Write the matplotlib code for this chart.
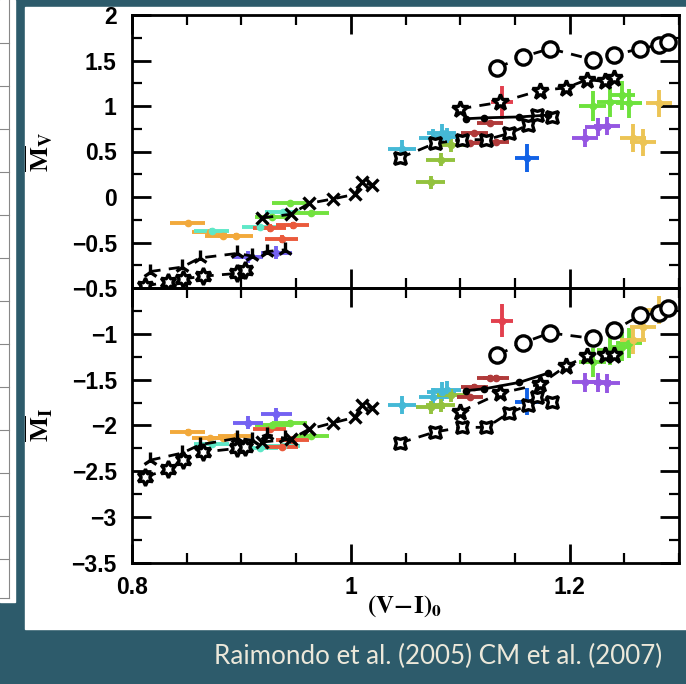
import matplotlib.pyplot as plt
from matplotlib.patches import Rectangle
from matplotlib.lines import Line2D
from matplotlib.ticker import MultipleLocator

plt.rcParams['mathtext.fontset'] = 'stix'

# (V-I)_0 colour and mean magnitudes of the observed clusters
orange_x = [0.851, 0.871, 0.883, 0.895]
orange_mv = [-0.29, -0.38, -0.43, -0.43]
orange_mi = [-2.07, -2.14, -2.14, -2.12]

aqua_x = [0.873, 0.917, 0.938]
aqua_mv = [-0.37, -0.33, -0.17]
aqua_mi = [-2.20, -2.25, -2.22]

tomato_x = [0.926, 0.937, 0.947]
tomato_mv = [-0.34, -0.46, -0.31]
tomato_mi = [-2.04, -2.23, -2.16]

green_x = [0.928, 0.944, 0.964]
green_mv = [-0.22, -0.07, -0.18]
green_mi = [-2.00, -1.97, -2.12]

violet_x = [0.906, 0.932]
violet_mv = [-0.66, -0.61]
violet_mi = [-1.97, -1.88]

cyan_x = [1.047, 1.075, 1.083, 1.088]
cyan_mv = [0.53, 0.65, 0.70, 0.66]
cyan_mi = [-1.78, -1.69, -1.63, -1.61]

olive_x = [1.073, 1.082, 1.092]
olive_mv = [0.16, 0.41, 0.57]
olive_mi = [-1.80, -1.78, -1.67]

darkred_x = [1.109, 1.113, 1.127, 1.133]
darkred_mv = [0.59, 0.70, 0.81, 0.60]
darkred_mi = [-1.69, -1.58, -1.48, -1.48]

red_x = [1.138]
red_mv = [1.04]
red_mi = [-0.86]

blue_x = [1.161]
blue_mv = [0.43]
blue_mi = [-1.74]

purple_x = [1.214, 1.226, 1.234]
purple_mv = [0.65, 0.77, 0.78]
purple_mi = [-1.53, -1.53, -1.54]

lime_x = [1.221, 1.237, 1.248, 1.254]
lime_mv = [1.00, 1.04, 1.12, 1.03]
lime_mi = [-1.31, -1.18, -1.14, -1.10]

gold_x = [1.258, 1.267, 1.282]
gold_mv = [0.65, 0.60, 1.03]
gold_mi = [-1.07, -0.93, -0.74]

# model sequences
tri_x = [0.816, 0.846, 0.862, 0.896, 0.910, 0.923, 0.940]
tri_mv = [-0.82, -0.77, -0.67, -0.62, -0.65, -0.60, -0.58]
tri_mi = [-2.38, -2.30, -2.21, -2.14, -2.16, -2.10, -2.14]

hex_x = [0.812, 0.833, 0.847, 0.865, 0.896, 0.903]
hex_mv = [-0.98, -0.93, -0.90, -0.87, -0.84, -0.80]
hex_mi = [-2.56, -2.48, -2.38, -2.29, -2.25, -2.23]

cross_x = [0.919, 0.945, 0.962, 0.984, 1.004, 1.010, 1.019]
cross_mv = [-0.23, -0.19, -0.07, -0.02, 0.03, 0.17, 0.13]
cross_mi = [-2.18, -2.15, -2.04, -1.97, -1.91, -1.78, -1.81]

four_x = [1.045, 1.077, 1.102, 1.124, 1.145, 1.162, 1.170, 1.184]
four_mv = [0.43, 0.59, 0.63, 0.63, 0.70, 0.79, 0.90, 0.88]
four_mi = [-2.19, -2.07, -2.02, -2.02, -1.86, -1.78, -1.69, -1.74]

dot_x = [1.105, 1.122, 1.154, 1.180]
dot_mv = [0.86, 0.87, 0.88, 0.90]
dot_mi = [-1.62, -1.60, -1.53, -1.43]

five_x = [1.100, 1.136, 1.173, 1.197, 1.216, 1.232, 1.241]
five_mv = [0.97, 1.04, 1.17, 1.20, 1.29, 1.27, 1.31]
five_mi = [-1.85, -1.65, -1.55, -1.35, -1.24, -1.23, -1.23]

circ_x = [1.134, 1.157, 1.182, 1.221, 1.241, 1.264, 1.282, 1.290]
circ_mv = [1.42, 1.54, 1.63, 1.51, 1.56, 1.63, 1.67, 1.70]
circ_mi = [-1.23, -1.10, -0.99, -1.05, -0.96, -0.80, -0.77, -0.72]

# colour, x, M_V, M_I, xerr, yerr
clusters = [
    ('#f2a93b', orange_x, orange_mv, orange_mi, 0.016, 0.03),
    ('#5fe8c8', aqua_x, aqua_mv, aqua_mi, 0.016, 0.03),
    ('#ea5a3c', tomato_x, tomato_mv, tomato_mi, 0.015, 0.04),
    ('#72e23e', green_x, green_mv, green_mi, 0.016, 0.03),
    ('#7462f2', violet_x, violet_mv, violet_mi, 0.014, 0.07),
    ('#45b9d6', cyan_x, cyan_mv, cyan_mi, 0.013, 0.10),
    ('#93c23e', olive_x, olive_mv, olive_mi, 0.013, 0.07),
    ('#b03a3a', darkred_x, darkred_mv, darkred_mi, 0.012, 0.03),
    ('#e2404e', red_x, red_mv, red_mi, 0.010, 0.18),
    ('#1262e6', blue_x, blue_mv, blue_mi, 0.011, 0.15),
    ('#9556e2', purple_x, purple_mv, purple_mi, 0.012, 0.10),
    ('#6de23c', lime_x, lime_mv, lime_mi, 0.012, 0.16),
    ('#ecc455', gold_x, gold_mv, gold_mi, 0.012, 0.15),
]

# marker, linestyle, x, M_V, M_I
models = [
    ('2', 'dash', tri_x, tri_mv, tri_mi),
    ((6, 1, 0), 'dash', hex_x, hex_mv, hex_mi),
    ('x', 'dash', cross_x, cross_mv, cross_mi),
    ((4, 1, 45), 'dash', four_x, four_mv, four_mi),
    ('o', 'solid', dot_x, dot_mv, dot_mi),
    ('*', 'dash', five_x, five_mv, five_mi),
    ('o', 'dash', circ_x, circ_mv, circ_mi),
]

W, H = 686, 684
TEAL = '#2d5b6b'

fig = plt.figure(figsize=(W / 100, H / 100), dpi=100, facecolor=TEAL)


def px(x0, y0, x1, y1):
    # pixel box -> figure fraction
    return [x0 / W, 1 - y1 / H, (x1 - x0) / W, (y1 - y0) / H]


# slide background: table strip on the left and the white picture panel
l, b, w, h = px(0, 0, 15, 602)
fig.patches.append(Rectangle((l, b), w, h, transform=fig.transFigure, color='white', zorder=-2))
grid_kw = dict(transform=fig.transFigure, color='#888888', lw=0.8, zorder=-1)
fig.lines.append(Line2D([9 / W, 9 / W], [1 - 598 / H, 1], **grid_kw))
for yy in range(43, 600, 43):
    fig.lines.append(Line2D([0, 9 / W], [1 - yy / H] * 2, **grid_kw))
fig.lines.append(Line2D([0, 9 / W], [1 - 598 / H] * 2, **grid_kw))
l, b, w, h = px(25, 7, 686, 629)
fig.patches.append(Rectangle((l, b), w, h, transform=fig.transFigure, color='white', zorder=-2))

ax_v = fig.add_axes(px(132, 15, 679, 288))
ax_i = fig.add_axes(px(132, 288, 679, 563))

TICK_FONT = {'family': 'Liberation Sans', 'weight': 'bold', 'size': 16.5}


def fmt(v):
    return '{:g}'.format(v).replace('-', '\u2212')


for ax, col in ((ax_v, 2), (ax_i, 3)):
    ax.set_facecolor('none')
    for c, xs, mv, mi, xe, ye in clusters:
        ys = mv if col == 2 else mi
        ax.errorbar(xs, ys, xerr=xe, yerr=ye, fmt='o', ms=4.5, color=c,
                    elinewidth=2.8, capsize=0, zorder=2)
    for m, ls, xs, mv, mi in models:
        ys = mv if col == 2 else mi
        style = (0, (4, 3)) if ls == 'dash' else '-'
        if m == 'o' and ls == 'solid':
            ax.plot(xs, ys, linestyle=style, color='black', lw=2, marker='o', ms=4.5, zorder=3)
        else:
            mfc = 'none' if m in ('2', 'x') else 'white'
            size = {'o': 11, '*': 12, '2': 11, 'x': 9}.get(m, 12)
            ax.plot(xs, ys, linestyle=style, color='black', lw=2, marker=m, ms=size,
                    mfc=mfc, mec='black', mew=2.4, zorder=3)

    ax.set_xlim(0.8, 1.3)
    ax.xaxis.set_major_locator(MultipleLocator(0.2))
    ax.xaxis.set_minor_locator(MultipleLocator(0.05))
    ax.yaxis.set_minor_locator(MultipleLocator(0.25))
    ax.tick_params(which='major', direction='in', length=14, width=2, top=True, right=True, pad=11)
    ax.tick_params(which='minor', direction='in', length=7, width=1.6, top=True, right=True)
    for s in ax.spines.values():
        s.set_linewidth(2)

ax_v.set_ylim(-1, 2)
vt = [-1, -0.5, 0, 0.5, 1, 1.5, 2]
ax_v.set_yticks(vt)
ax_v.set_yticklabels([''] + [fmt(v) for v in vt[1:]], fontdict=TICK_FONT)
ax_v.set_xticklabels([])

ax_i.set_ylim(-3.5, -0.5)
it = [-3.5, -3, -2.5, -2, -1.5, -1, -0.5]
ax_i.set_yticks(it)
ax_i.set_yticklabels([fmt(v) for v in it], fontdict=TICK_FONT)
xt = [0.8, 1.0, 1.2]
ax_i.set_xticks(xt)
ax_i.set_xticklabels([fmt(v) for v in xt], fontdict=TICK_FONT)
ax_i.tick_params(axis='x', which='major', pad=9)

fig.text(40 / W, 1 - 152 / H, r'$\overline{\mathbf{M}}_{\mathbf{V}}$', rotation=90,
         ha='center', va='center', fontsize=19)
fig.text(40 / W, 1 - 425 / H, r'$\overline{\mathbf{M}}_{\mathbf{I}}$', rotation=90,
         ha='center', va='center', fontsize=19)
fig.text(405 / W, 1 - 606 / H, r'$\mathbf{(V\!-\!I)_{0}}$', ha='center', va='center', fontsize=18)

fig.text(438 / W, 1 - 656 / H, 'Raimondo et al. (2005) CM et al. (2007)', ha='center', va='center',
         color='#ece8da', fontsize=18.7, family='Lato')

fig.savefig('out.png', dpi=100, facecolor=fig.get_facecolor())
